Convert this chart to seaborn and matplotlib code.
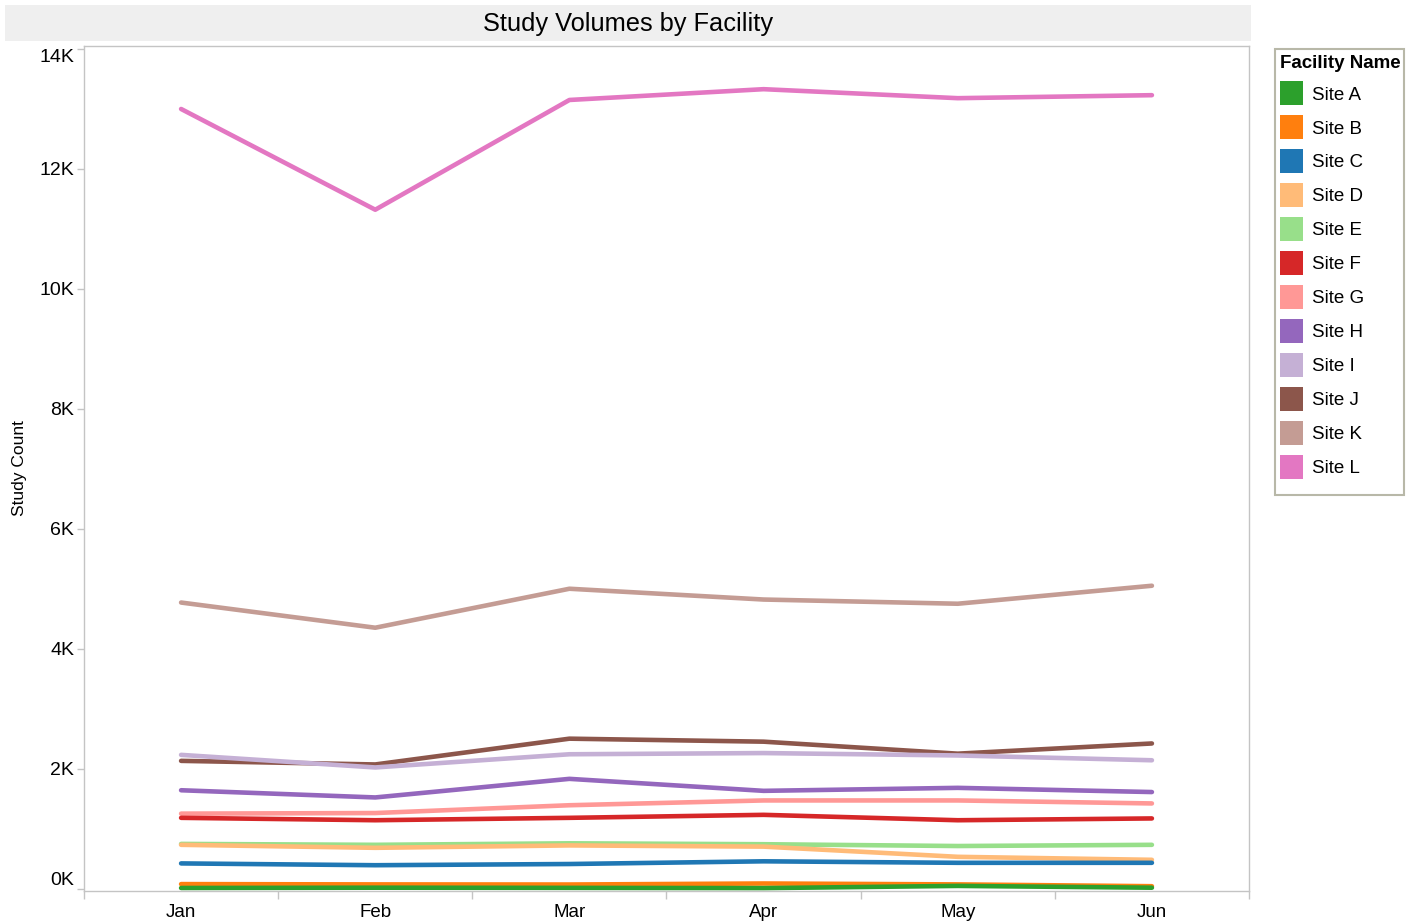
"""
Study Volumes by Facility - line chart, one line per site.
"""

import pandas as pd
import matplotlib.pyplot as plt
import seaborn as sns
from matplotlib.patches import Patch, Rectangle

months = ["Jan", "Feb", "Mar", "Apr", "May", "Jun"]
sites = ["Site A", "Site B", "Site C", "Site D", "Site E", "Site F",
         "Site G", "Site H", "Site I", "Site J", "Site K", "Site L"]
colors = ["#2ca02c", "#ff7f0e", "#1f77b4", "#ffbb78", "#98df8a", "#d62728",
          "#ff9896", "#9467bd", "#c5b0d5", "#8c564b", "#c49c94", "#e377c2"]

site_a = [10, 15, 12, 8, 45, 15]
site_b = [75, 70, 68, 85, 70, 40]
site_c = [420, 390, 410, 455, 430, 430]
site_d = [730, 680, 720, 700, 530, 480]
site_e = [745, 730, 755, 740, 710, 730]
site_f = [1180, 1140, 1180, 1230, 1140, 1170]
site_g = [1250, 1260, 1390, 1470, 1470, 1420]
site_h = [1640, 1520, 1830, 1630, 1680, 1610]
site_i = [2230, 2020, 2240, 2260, 2220, 2140]
site_j = [2130, 2070, 2500, 2450, 2250, 2420]
site_k = [4770, 4350, 5000, 4820, 4750, 5050]
site_l = [13000, 11320, 13150, 13330, 13180, 13230]

y_ticks = [0, 2000, 4000, 6000, 8000, 10000, 12000, 14000]

series = [site_a, site_b, site_c, site_d, site_e, site_f,
          site_g, site_h, site_i, site_j, site_k, site_l]

rows = []
for name, vals in zip(sites, series):
    for i, v in enumerate(vals):
        rows.append({"month": i, "facility": name, "count": v})
df = pd.DataFrame(rows)
palette = dict(zip(sites, colors))

sns.set_style("white")
plt.rcParams["font.family"] = ["Liberation Sans", "DejaVu Sans"]
plt.rcParams["text.color"] = "black"
plt.rcParams["axes.labelcolor"] = "black"
plt.rcParams["xtick.color"] = "black"
plt.rcParams["ytick.color"] = "black"

fig = plt.figure(figsize=(14.07, 9.22), dpi=100)
ax = fig.add_axes([84 / 1407, 1 - 891 / 922, (1249 - 84) / 1407, (891 - 46) / 922])

# later sites first so Site A ends up on top
sns.lineplot(data=df, x="month", y="count", hue="facility",
             hue_order=sites[::-1], palette=palette, lw=3.3,
             legend=False, ax=ax, solid_capstyle="round")

ax.set_xlim(-0.5, 5.5)
ax.set_ylim(-40, 14050)

grey = "#c4c4c4"
for s in ax.spines.values():
    s.set_color(grey)
    s.set_linewidth(1)

ax.set_xticks(range(len(months)))
ax.set_xticklabels(months, fontsize=13.5)
ax.set_xticks([i - 0.5 for i in range(len(months) + 1)], minor=True)
ax.tick_params(axis="x", which="major", length=0, pad=9)
ax.tick_params(axis="x", which="minor", length=6, color=grey, width=1, bottom=True)

ax.set_yticks(y_ticks)
ax.set_yticklabels([f"{v // 1000}K" for v in y_ticks], fontsize=14)
ax.tick_params(axis="y", length=5, color=grey, labelcolor="black", width=1, left=True, pad=2)
labels = ax.get_yticklabels()
labels[0].set_va("bottom")
labels[-1].set_va("top")

ax.set_xlabel("")
ax.set_ylabel("Study Count", fontsize=12.5, labelpad=9)

# title band
fig.patches.append(Rectangle((5 / 1407, 1 - 41 / 922), (1251 - 5) / 1407, 36 / 922,
                             transform=fig.transFigure, facecolor="#efefef",
                             edgecolor="none", zorder=0))
fig.text(628 / 1407, 1 - 24 / 922, "Study Volumes by Facility",
         ha="center", va="center", fontsize=18.3)

# legend box (drawn separately, it has extra room below the last entry)
fig.patches.append(Rectangle((1275 / 1407, 1 - 495 / 922), (1404 - 1275) / 1407, (495 - 49) / 922,
                             transform=fig.transFigure, facecolor="white",
                             edgecolor="#b8b8a8", linewidth=1.5, zorder=0))
handles = [Patch(facecolor=c, edgecolor="none") for c in colors]
leg = fig.legend(handles, sites, loc="upper left",
                 bbox_to_anchor=(1273 / 1407, 1 - 48 / 922),
                 title="Facility Name", fontsize=13.5, title_fontsize=13.5,
                 handlelength=1.25, handleheight=1.6, labelspacing=0.525,
                 handletextpad=0.5, borderpad=0.35, borderaxespad=0,
                 frameon=False, alignment="left")
leg.get_title().set_fontweight("bold")

fig.savefig("out.png", dpi=100)
